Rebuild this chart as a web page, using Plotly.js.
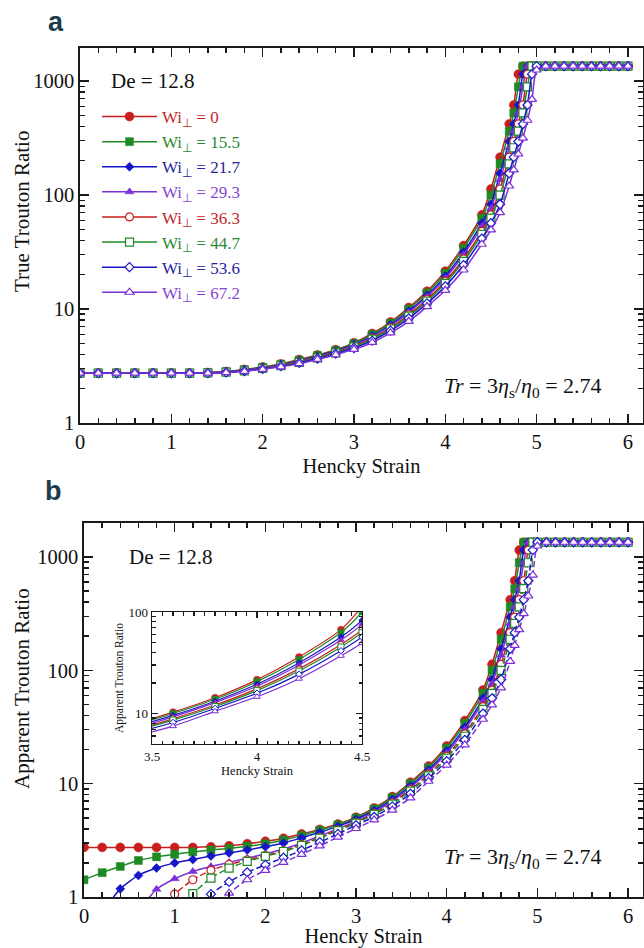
<!DOCTYPE html>
<html><head><meta charset="utf-8">
<script src="https://cdn.plot.ly/plotly-3.0.1.min.js"></script>
<style>html,body{margin:0;padding:0;background:#fff}#chart{width:644px;height:948px}</style>
</head><body><div id="chart"></div>
<script>
// ---------- data ----------
const strain = [0,0.2,0.4,0.6,0.8,1.0,1.2,1.4,1.6,1.8,2.0,2.2,2.4,2.6,2.8,3.0,3.2,3.4,3.6,3.8,4.0,4.2,4.4,4.5,4.6,4.7,4.75,4.8,4.85,4.9,4.95,5.0,5.1,5.2,5.3,5.4,5.5,5.6,5.7,5.8,5.9,6.0];
const wiLabels = ['0','15.5','21.7','29.3','36.3','44.7','53.6','67.2'];
const deborah = '12.8';
const solventTr = 2.74;

// panel a: true Trouton ratio
const trueWi0  = [2.74,2.74,2.74,2.74,2.74,2.74,2.74,2.77,2.83,2.95,3.10,3.30,3.60,3.95,4.40,5.05,6.10,7.69,10.3,14.3,21.5,36.0,67.0,113,215,420,617,1150,1350,1350,1350,1350,1350,1350,1350,1350,1350,1350,1350,1350,1350,1350];
const trueWi15 = [2.74,2.74,2.74,2.74,2.74,2.74,2.74,2.77,2.82,2.94,3.08,3.28,3.56,3.92,4.35,4.98,5.98,7.52,10.0,13.8,20.6,34.1,62.7,100,188,363,525,890,1350,1350,1350,1350,1350,1350,1350,1350,1350,1350,1350,1350,1350,1350];
const trueWi21 = [2.74,2.74,2.74,2.74,2.74,2.74,2.74,2.76,2.81,2.92,3.06,3.25,3.52,3.86,4.28,4.88,5.81,7.26,9.57,13.2,19.4,31.5,56.6,83,155,295,420,617,1150,1350,1350,1350,1350,1350,1350,1350,1350,1350,1350,1350,1350,1350];
const trueWi29 = [2.74,2.74,2.74,2.74,2.74,2.74,2.74,2.75,2.80,2.90,3.05,3.23,3.48,3.83,4.23,4.81,5.70,7.10,9.31,12.8,18.6,29.9,53.0,76,136,260,363,525,890,1350,1350,1350,1350,1350,1350,1350,1350,1350,1350,1350,1350,1350];
const trueWi36 = [2.74,2.74,2.74,2.74,2.74,2.74,2.74,2.75,2.79,2.88,3.02,3.20,3.44,3.77,4.17,4.71,5.55,6.84,8.91,12.1,17.5,27.5,47.9,67,113,215,295,420,617,1150,1350,1350,1350,1350,1350,1350,1350,1350,1350,1350,1350,1350];
const trueWi44 = [2.74,2.74,2.74,2.74,2.74,2.74,2.74,2.75,2.79,2.87,3.01,3.18,3.41,3.73,4.12,4.65,5.45,6.68,8.65,11.7,16.8,26.2,45.2,62.7,100,188,260,363,525,890,1350,1350,1350,1350,1350,1350,1350,1350,1350,1350,1350,1350];
const trueWi53 = [2.74,2.74,2.74,2.74,2.74,2.74,2.74,2.74,2.78,2.86,2.99,3.15,3.37,3.68,4.06,4.55,5.28,6.46,8.28,11.2,15.8,24.3,41.5,56.6,83,155,215,295,420,617,1150,1350,1350,1350,1350,1350,1350,1350,1350,1350,1350,1350];
const trueWi67 = [2.74,2.74,2.74,2.74,2.74,2.74,2.74,2.74,2.77,2.84,2.96,3.11,3.32,3.61,3.97,4.43,5.09,6.17,7.80,10.5,14.6,22.0,37.0,49.5,70,120,166,229,316,453,692,1250,1350,1350,1350,1350,1350,1350,1350,1350,1350,1350];

// panel b: apparent Trouton ratio at low strain (strain 0 .. 3.6); beyond that it equals the true ratio
const appLowWi0  = [2.74,2.74,2.74,2.74,2.74,2.74,2.74,2.77,2.83,2.95,3.10,3.30,3.60,3.95,4.40,5.05,6.10,7.69,10.3];
const appLowWi15 = [1.42,1.64,1.86,2.10,2.26,2.38,2.50,2.60,2.68,2.80,2.95,3.18,3.48,3.88,4.33,4.98,5.98,7.52,10.0];
const appLowWi21 = [0.35,0.72,1.18,1.55,1.80,2.00,2.14,2.30,2.45,2.60,2.78,3.00,3.33,3.72,4.20,4.85,5.80,7.26,9.57];
const appLowWi29 = [null,null,0.45,0.75,1.17,1.45,1.68,1.86,2.02,2.20,2.40,2.65,3.00,3.45,4.00,4.65,5.60,7.00,9.25];
const appLowWi36 = [null,null,null,0.42,0.70,1.06,1.42,1.72,1.94,2.12,2.32,2.56,2.90,3.35,3.90,4.55,5.45,6.75,8.85];
const appLowWi44 = [null,null,null,null,0.45,0.72,1.07,1.47,1.80,2.06,2.28,2.52,2.85,3.30,3.85,4.48,5.35,6.60,8.60];
const appLowWi53 = [null,null,null,null,null,0.45,0.72,1.06,1.36,1.65,1.92,2.22,2.58,3.05,3.60,4.30,5.10,6.30,8.15];
const appLowWi67 = [null,null,null,null,null,null,0.45,0.72,1.08,1.42,1.72,2.02,2.38,2.82,3.38,4.02,4.80,5.85,7.50];

// ---------- build ----------
const W = 644, H = 948;
const px = v => v / W, py = v => 1 - v / H;

const trueSets = [trueWi0,trueWi15,trueWi21,trueWi29,trueWi36,trueWi44,trueWi53,trueWi67];
const appLowSets = [appLowWi0,appLowWi15,appLowWi21,appLowWi29,appLowWi36,appLowWi44,appLowWi53,appLowWi67];
const appSets = appLowSets.map((lo,i) => lo.concat(trueSets[i].slice(lo.length)));

const colors = ['#c81e1e','#1f8a24','#1616c8','#7b30d8','#c81e1e','#1f8a24','#1616c8','#7b30d8'];
const textColors = ['#c0282a','#2b8a2f','#26269e','#8844d4','#c0282a','#2b8a2f','#26269e','#8844d4'];
const symbols = ['circle','square','diamond','triangle-up','circle','square','diamond','triangle-up'];
const filled = [true,true,true,true,false,false,false,false];
const sizes = [9,8,7,8,8,8,7,8];
const serif = 'Liberation Serif';
const ink = '#1a1a1a';

const traces = [];
trueSets.forEach((ys,i) => {
  traces.push({
    x: strain, y: ys, xaxis:'x', yaxis:'y', type:'scatter', mode:'lines+markers',
    name: '<span style="color:'+textColors[i]+'">Wi<sub>⊥</sub> = '+wiLabels[i]+'</span>',
    line:{color:colors[i], width:1.5, shape:'spline', smoothing:0.6},
    marker:{symbol:symbols[i], size:sizes[i], color: filled[i]?colors[i]:'#ffffff', line:{color:colors[i], width: filled[i]?0.5:1.2}},
    showlegend:true
  });
});
appSets.forEach((ys,i) => {
  traces.push({
    x: strain, y: ys, xaxis:'x2', yaxis:'y2', type:'scatter', mode:'lines+markers',
    line:{color:colors[i], width:1.5, shape:'spline', smoothing:0.6, dash: filled[i]?'solid':'6px,3px'},
    marker:{symbol:symbols[i], size:sizes[i], color: filled[i]?colors[i]:'#ffffff', line:{color:colors[i], width: filled[i]?0.5:1.2}},
    showlegend:false
  });
});
appSets.forEach((ys,i) => {
  traces.push({
    x: strain, y: ys, xaxis:'x3', yaxis:'y3', type:'scatter', mode:'lines+markers',
    line:{color:colors[i], width:1.2, shape:'spline', smoothing:0.6},
    marker:{symbol:symbols[i], size:sizes[i]-2, color: filled[i]?colors[i]:'#ffffff', line:{color:colors[i], width: filled[i]?0.5:1}},
    showlegend:false
  });
});

const baseAxis = {
  showline:true, linecolor:ink, linewidth:1.6, mirror:'allticks',
  ticks:'inside', ticklen:9, tickwidth:1.5, tickcolor:ink,
  showgrid:false, zeroline:false,
  tickfont:{family:serif, size:20.5, color:'#111'}
};
function xAxis(domain, anchor, title, standoff) {
  return Object.assign({}, baseAxis, {
    domain, anchor, range:[0, 6.165], tick0:0, dtick:1,
    minor:{ticks:'inside', ticklen:5, tick0:0, dtick:0.2, tickcolor:ink, tickwidth:1.5, showgrid:false},
    title:{text:title, font:{family:serif, size:20.5, color:'#111'}, standoff:standoff}
  });
}
function yAxis(domain, anchor, top) {
  return Object.assign({}, baseAxis, {
    domain, anchor, type:'log', range:[0, top], dtick:1, exponentformat:'none',
    minor:{ticks:'inside', ticklen:5, dtick:'D1', tickcolor:ink, tickwidth:1.5, showgrid:false}
  });
}

const layout = {
  width:W, height:H, margin:{l:0,r:0,t:0,b:0},
  paper_bgcolor:'#fff', plot_bgcolor:'#fff',
  font:{family:serif, color:'#111'},
  showlegend:true,
  legend:{x:px(97), y:py(99), xanchor:'left', yanchor:'top', bgcolor:'rgba(0,0,0,0)',
          font:{family:serif, size:17}, itemwidth:55, tracegroupgap:0},
  xaxis: xAxis([px(80), px(643)], 'y', 'Hencky Strain', 6),
  yaxis: yAxis([py(423), py(48)], 'x', 3.29),
  xaxis2: xAxis([px(84), px(643)], 'y2', 'Hencky Strain', 8),
  yaxis2: yAxis([py(897), py(523)], 'x2', 3.30),
  xaxis3: Object.assign({}, baseAxis, {
    domain:[px(152), px(362)], anchor:'y3', range:[3.5,4.5], tick0:3.5, dtick:0.5,
    ticklen:6, tickwidth:1.3, linewidth:1.4, tickfont:{family:serif, size:13, color:'#111'},
    minor:{ticks:'inside', ticklen:3.5, tick0:3.5, dtick:0.05, tickcolor:ink, tickwidth:1.3, showgrid:false},
    title:{text:'Hencky Strain', font:{family:serif, size:12.5, color:'#111'}, standoff:2}
  }),
  yaxis3: Object.assign({}, baseAxis, {
    domain:[py(744), py(612)], anchor:'x3', type:'log', range:[Math.log10(5), 2], dtick:1, exponentformat:'none',
    ticklen:6, tickwidth:1.3, linewidth:1.4, tickfont:{family:serif, size:13, color:'#111'},
    minor:{ticks:'inside', ticklen:3.5, dtick:'D1', tickcolor:ink, tickwidth:1.3, showgrid:false},
    title:{text:'Apparent Trouton Ratio', font:{family:serif, size:11.5, color:'#111'}, standoff:2}
  }),
  shapes: [
    {type:'line', xref:'x domain', x0:0, x1:1, yref:'y', y0:Math.log10(solventTr), y1:Math.log10(solventTr), line:{color:'#111', width:1.5, dash:'dot'}},
    {type:'line', xref:'x2 domain', x0:0, x1:1, yref:'y2', y0:Math.log10(solventTr), y1:Math.log10(solventTr), line:{color:'#111', width:1.5, dash:'dot'}}
  ],
  annotations: [
    {text:'<b>a</b>', x:px(56), y:py(22), xref:'paper', yref:'paper', showarrow:false, xanchor:'center', yanchor:'middle', font:{family:'Liberation Sans', size:27, color:'#1c3b4e'}},
    {text:'<b>b</b>', x:px(53), y:py(491), xref:'paper', yref:'paper', showarrow:false, xanchor:'center', yanchor:'middle', font:{family:'Liberation Sans', size:27, color:'#1c3b4e'}},
    {text:'De = '+deborah, x:px(109), y:py(81), xref:'paper', yref:'paper', showarrow:false, xanchor:'left', yanchor:'middle', font:{family:serif, size:21, color:'#111'}},
    {text:'De = '+deborah, x:px(127), y:py(557), xref:'paper', yref:'paper', showarrow:false, xanchor:'left', yanchor:'middle', font:{family:serif, size:21, color:'#111'}},
    {text:'<i>Tr</i> = 3<i>η</i><sub>s</sub>/<i>η</i><sub>0</sub> = '+solventTr, x:px(523), y:py(387), xref:'paper', yref:'paper', showarrow:false, xanchor:'center', yanchor:'middle', font:{family:serif, size:22, color:'#111'}},
    {text:'<i>Tr</i> = 3<i>η</i><sub>s</sub>/<i>η</i><sub>0</sub> = '+solventTr, x:px(523), y:py(858), xref:'paper', yref:'paper', showarrow:false, xanchor:'center', yanchor:'middle', font:{family:serif, size:22, color:'#111'}},
    {text:'True Trouton Ratio', x:px(22), y:py(212), xref:'paper', yref:'paper', showarrow:false, textangle:-90, xanchor:'center', yanchor:'middle', font:{family:serif, size:21, color:'#111'}},
    {text:'Apparent Trouton Ratio', x:px(22), y:py(689), xref:'paper', yref:'paper', showarrow:false, textangle:-90, xanchor:'center', yanchor:'middle', font:{family:serif, size:21, color:'#111'}}
  ]
};

Plotly.newPlot('chart', traces, layout, {staticPlot:true, displayModeBar:false});
</script>
</body></html>
